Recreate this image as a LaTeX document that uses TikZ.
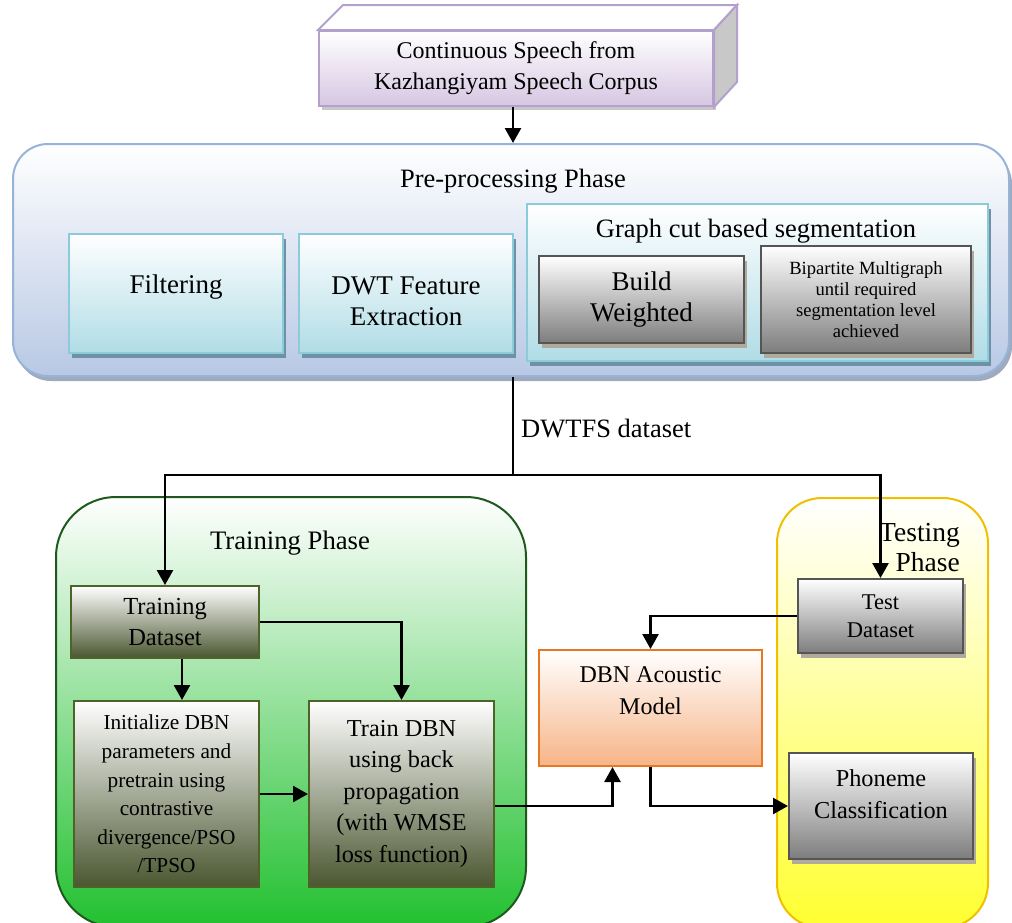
\documentclass[tikz,border=0pt]{standalone}
\usepackage{fontspec}
\setmainfont{Liberation Serif}
\usetikzlibrary{arrows.meta,shadows,calc}
\definecolor{purpB}{RGB}{180,160,204}
\definecolor{purpF}{RGB}{214,198,226}
\definecolor{purpS}{RGB}{200,200,200}
\definecolor{preB}{RGB}{150,180,216}
\definecolor{preF}{RGB}{184,200,228}
\definecolor{preS}{RGB}{160,170,190}
\definecolor{cyB}{RGB}{140,204,218}
\definecolor{cyF}{RGB}{176,220,230}
\definecolor{cyS}{RGB}{110,145,165}
\definecolor{grB}{RGB}{85,85,85}
\definecolor{grF}{RGB}{125,125,125}
\definecolor{grS}{RGB}{175,170,155}
\definecolor{olB}{RGB}{79,98,40}
\definecolor{olF}{RGB}{74,86,48}
\definecolor{olM}{RGB}{175,175,165}
\definecolor{trB}{RGB}{30,90,30}
\definecolor{trF}{RGB}{34,192,48}
\definecolor{trM}{RGB}{232,247,232}
\definecolor{teB}{RGB}{240,192,0}
\definecolor{teF}{RGB}{255,255,48}
\definecolor{teM}{RGB}{255,255,200}
\definecolor{orB}{RGB}{232,119,34}
\definecolor{orF}{RGB}{247,180,135}
\newcommand\myfs[2]{\fontsize{#1}{#2}\selectfont}
\tikzset{
  bx/.style={draw, line width=2pt, anchor=north west, align=center, inner sep=0pt},
  cybox/.style={bx, draw=cyB, top color=white, bottom color=cyF,
     general shadow={shadow xshift=3pt, shadow yshift=-5pt, fill=cyS}},
  graybox/.style={bx, draw=grB, top color=white, bottom color=grF,
     general shadow={shadow xshift=3pt, shadow yshift=-5pt, fill=grS}},
  olbox/.style={bx, draw=olB, top color=white, middle color=olM, bottom color=olF},
  arr/.style={line width=2.6pt, -{Triangle[width=16pt,length=15pt]}},
  ln/.style={line width=2.6pt},
  txt/.style={align=center, inner sep=0pt}
}
\begin{document}
\begin{tikzpicture}[x=1pt,y=-1pt]
\useasboundingbox (0,0) rectangle (1012,922);
% ---- source 3D box
\node[bx, draw=purpB, top color=white, bottom color=purpF, minimum width=394pt, minimum height=75pt,
  general shadow={shadow xshift=3pt, shadow yshift=-4pt, fill=purpS}, font=\myfs{24}{31}] (src) at (318,30)
  {Continuous Speech from\\ Kazhangiyam Speech Corpus};
\draw[draw=purpB, line width=2pt, fill=white] (src.north west) -- ++(25,-25) -- ++(394,0) -- (src.north east) -- cycle;
\draw[draw=purpB, line width=2pt, fill=purpS] (src.north east) -- ++(23,-25) -- ++(0,77) -- (src.south east) -- cycle;
% ---- pre-processing
\node[bx, draw=preB, rounded corners=35pt, top color=white, bottom color=preF,
  minimum width=996pt, minimum height=232pt,
  general shadow={shadow xshift=3pt, shadow yshift=-5pt, fill=preS}] (pre) at (12,143) {};
\node[txt, font=\myfs{26.5}{30}] (pretxt) at (513,181) {Pre-processing Phase};
\node[cybox, minimum width=214pt, minimum height=119pt] (filt) at (68,233) {};
\node[txt, font=\myfs{27}{31}] (filttxt) at ($(filt.center)+(0,-6)$) {Filtering};
\node[cybox, minimum width=214pt, minimum height=119pt] (dwt) at (298,233) {};
\node[txt, font=\myfs{27}{31}] (dwttxt) at ($(dwt.center)+(0,8)$) {DWT Feature\\ Extraction};
\node[cybox, minimum width=461pt, minimum height=157pt] (gc) at (526,203) {};
\node[txt, font=\myfs{26.5}{30}] (gctxt) at (756,231) {Graph cut based segmentation};
\node[graybox, minimum width=205pt, minimum height=87pt, font=\myfs{27}{31}] (bw) at (538,255)
  {Build\\ Weighted};
\node[graybox, minimum width=210pt, minimum height=107pt, font=\myfs{18.6}{21}] (bm) at (760,245)
  {Bipartite Multigraph\\ until required\\ segmentation level\\ achieved};
\draw[arr] (src.south -| 513,0) -- (pre.north -| 513,0);
% ---- training phase
\node[bx, draw=trB, rounded corners=60pt, top color=white, middle color=trM, bottom color=trF,
  minimum width=470pt, minimum height=430pt] (trp) at (55,496) {};
\node[txt, font=\myfs{26.7}{30}] (trptxt) at (290,543) {Training Phase};
\node[olbox, minimum width=188pt, minimum height=72pt, font=\myfs{24.5}{31}] (tds) at (70,585)
  {Training\\ Dataset};
\node[olbox, minimum width=185pt, minimum height=186pt, font=\myfs{21.3}{28.6}] (init) at (73,700)
  {Initialize DBN\\ parameters and\\ pretrain using\\ contrastive\\ divergence/PSO\\ /TPSO};
\node[olbox, minimum width=185pt, minimum height=186pt, font=\myfs{24.3}{31.5}] (train) at (308,700)
  {Train DBN\\ using back\\ propagation\\ (with WMSE\\ loss function)};
% ---- testing phase
\node[bx, draw=teB, rounded corners=45pt, top color=white, middle color=teM, bottom color=teF,
  minimum width=211pt, minimum height=430pt] (tsp) at (776,497) {};
\node[txt, anchor=east, align=right, font=\myfs{27.5}{30}] (tsptxt) at (960,548) {Testing\\ Phase};
\node[graybox, minimum width=165pt, minimum height=74pt, font=\myfs{22.5}{28}] (test) at (797,578)
  {Test\\ Dataset};
\node[graybox, minimum width=184pt, minimum height=106pt] (phon) at (788,752) {};
\node[txt, font=\myfs{24.3}{32}] (phontxt) at ($(phon.center)+(0,-12)$) {Phoneme\\ Classification};
% ---- DBN acoustic model
\node[bx, draw=orB, top color=white, bottom color=orF, minimum width=223pt, minimum height=116pt] (dbn) at (538,649) {};
\node[txt, font=\myfs{24}{32}] (dbntxt) at ($(dbn.center)+(0,-17)$) {DBN Acoustic\\ Model};
% ---- connectors
\coordinate (j) at (513,475);
\draw[ln] (pre.south -| j) -- (j);
\node[txt, anchor=west, font=\myfs{26.5}{30}] (dwtfs) at (521,428) {DWTFS dataset};
\draw[arr] (j) -| (tds.north);
\draw[arr] (j) -| (test.north);
\draw[arr] ([xshift=17pt]tds.south) -- ([xshift=17pt]tds.south |- init.north);
\draw[arr] (tds.east) -| (train.north);
\draw[arr] (init.east) -- (train.west);
\draw[arr] ([yshift=-12pt]train.east) -| ([xshift=-38pt]dbn.south);
\draw[arr] (test.west) -| (dbn.north);
\draw[arr] (dbn.south) |- (phon.west);
\end{tikzpicture}
\end{document}
